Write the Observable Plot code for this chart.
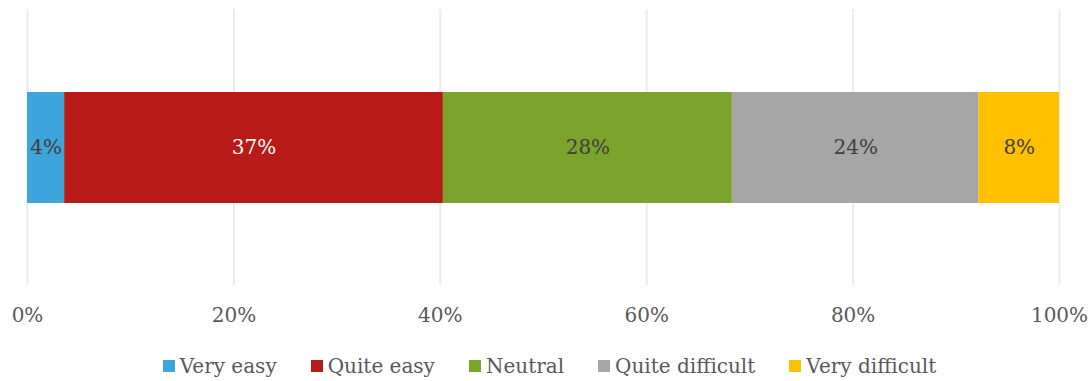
<!DOCTYPE html>
<html>
<head>
<meta charset="utf-8">
<script src="https://cdn.jsdelivr.net/npm/d3@7"></script>
<script src="https://cdn.jsdelivr.net/npm/@observablehq/plot@0.6"></script>
<style>
  body { margin: 0; background: #fff; font-family: "DejaVu Serif", serif; }
  #legend { display: flex; justify-content: center; align-items: center; height: 40px; margin-top: 10px; margin-left: 8px; font-size: 20px; color: #595959; }
  .item { display: flex; align-items: center; margin: 0 17px; }
  .sw { width: 12px; height: 12px; margin-right: 5px; }
</style>
</head>
<body>
<div id="chart"></div>
<div id="legend"></div>
<script>
const categories = ["Very easy", "Quite easy", "Neutral", "Quite difficult", "Very difficult"];
const values = [3.6, 36.7, 28.0, 23.9, 7.8];
const labels = ["4%", "37%", "28%", "24%", "8%"];
const colors = ["#3EA4DC", "#B81A18", "#7AA42C", "#A6A6A6", "#FFC000"];
const xTicks = [0, 20, 40, 60, 80, 100];

const data = categories.map((c, i) => ({cat: c, value: values[i], label: labels[i], row: "all"}));

const chart = Plot.plot({
  width: 1091,
  height: 336,
  marginLeft: 27,
  marginRight: 32,
  marginTop: 9,
  marginBottom: 51,
  style: {fontFamily: "DejaVu Serif, serif", fontSize: "20px", color: "#595959", background: "#fff"},
  x: {domain: [0, 100], ticks: xTicks, tickFormat: d => d + "%", tickSize: 0, tickPadding: 22, label: null},
  y: {domain: ["all"], padding: 0.4265, axis: null},
  color: {domain: categories, range: colors},
  marks: [
    Plot.ruleX(xTicks, {stroke: "#ebebeb", strokeWidth: 2}),
    Plot.barX(data, Plot.stackX({x: "value", y: "row", fill: "cat", order: null})),
    Plot.text(data, Plot.filter(d => d.cat !== "Quite easy", Plot.stackX({x: "value", y: "row", text: "label", fill: "#404040", fontSize: 20, order: null}))),
    Plot.text(data, Plot.filter(d => d.cat === "Quite easy", Plot.stackX({x: "value", y: "row", text: "label", fill: "#ffffff", fontSize: 20, order: null})))
  ]
});
document.getElementById("chart").appendChild(chart);

const legend = document.getElementById("legend");
categories.forEach((c, i) => {
  const item = document.createElement("div");
  item.className = "item";
  const sw = document.createElement("span");
  sw.className = "sw";
  sw.style.background = colors[i];
  const t = document.createElement("span");
  t.textContent = c;
  item.appendChild(sw);
  item.appendChild(t);
  legend.appendChild(item);
});
</script>
</body>
</html>
